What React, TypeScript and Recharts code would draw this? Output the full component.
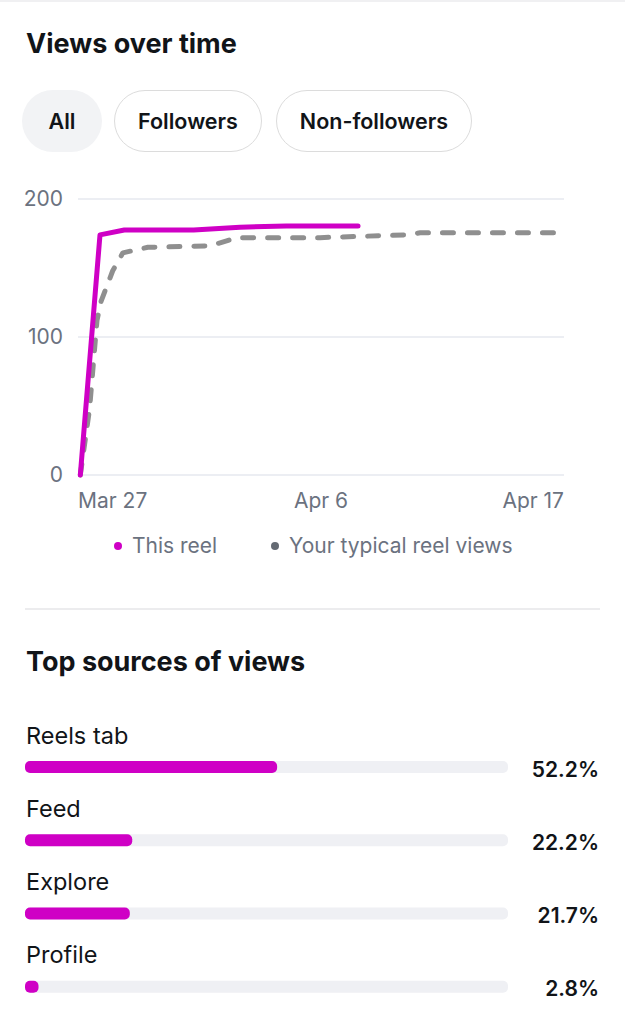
import React from "react";
import {
  LineChart,
  Line,
  XAxis,
  YAxis,
  CartesianGrid,
  Legend,
  BarChart,
  Bar,
  LabelList,
} from "recharts";

const FONT = 'Inter, "Noto Sans", sans-serif';
const MAGENTA = "#cf00c5";
const GRAY = "#8f8f8f";
const MUTED = "#6b7280";
const INK = "#111418";

const filters = ["All", "Followers", "Non-followers"];

// days since Mar 27
const reelDays = [0.1, 0.95, 2, 5, 7, 9, 12.1];
const reelViews = [0, 174, 177.5, 177.5, 179.5, 180.5, 180.5];

const typicalDays = [0.1, 0.5, 0.82, 1.0, 1.5, 1.94, 3.02, 5.7, 6.87, 10.46, 14.2, 14.78, 21];
const typicalViews = [0, 48, 112, 126, 148, 161, 165, 166, 172, 172, 174, 175.5, 175.5];

const tickDays = [0, 10.5, 21];
const tickLabels = ["Mar 27", "Apr 6", "Apr 17"];
const yTicks = [0, 100, 200];

const seriesNames = ["This reel", "Your typical reel views"];
const legendDots = [MAGENTA, "#646a73"];

const sources = ["Reels tab", "Feed", "Explore", "Profile"];
const sourceShares = [52.2, 22.2, 21.7, 2.8];

const reelData = reelDays.map((day, i) => ({ day, views: reelViews[i] }));
const typicalData = typicalDays.map((day, i) => ({ day, views: typicalViews[i] }));
const sourceData = sources.map((name, i) => ({ name, share: sourceShares[i] }));

function XTick(props: any) {
  const { x, y, payload, index } = props;
  const i = tickDays.indexOf(payload.value);
  const anchor = index === 0 ? "start" : index === tickDays.length - 1 ? "end" : "middle";
  return (
    <text x={x} y={y + 33} textAnchor={anchor} fill={MUTED} fontSize={21} fontFamily={FONT}>
      {tickLabels[i]}
    </text>
  );
}

function renderLegend() {
  const lefts = [114, 271];
  return (
    <div style={{ height: 50, position: "relative", fontFamily: FONT, fontSize: 21, color: MUTED }}>
      {seriesNames.map((name, i) => (
        <div
          key={name}
          style={{
            position: "absolute",
            left: lefts[i],
            top: 0,
            height: 52,
            lineHeight: "52px",
            display: "flex",
            alignItems: "center",
            whiteSpace: "nowrap",
          }}
        >
          <span
            style={{
              width: 8,
              height: 8,
              borderRadius: 4,
              background: legendDots[i],
              marginRight: 10,
              display: "inline-block",
            }}
          />
          {name}
        </div>
      ))}
    </div>
  );
}

function box(props: any) {
  const vb = props.viewBox && props.viewBox.height != null ? props.viewBox : props;
  return { x: Number(vb.x), y: Number(vb.y), height: Number(vb.height) };
}

function NameLabel(props: any) {
  const { x, y, height } = box(props);
  return (
    <text
      x={x + 1}
      y={y + height / 2 - 32}
      dominantBaseline="central"
      fill={INK}
      fontSize={23.5}
      fontFamily={FONT}
    >
      {props.value}
    </text>
  );
}

function ShareLabel(props: any) {
  const { y, height } = box(props);
  return (
    <text
      x={599}
      y={y + height / 2 + 2}
      dominantBaseline="central"
      textAnchor="end"
      fill={INK}
      fontSize={21}
      fontWeight={600}
      fontFamily={FONT}
    >
      {`${Number(props.value).toFixed(1)}%`}
    </text>
  );
}

export default function App() {
  return (
    <div
      style={{
        position: "absolute",
        left: 0,
        top: 0,
        width: 625,
        height: 1024,
        background: "#fff",
        fontFamily: FONT,
        color: INK,
        overflow: "hidden",
      }}
    >
      <div style={{ position: "absolute", left: 0, top: 0, width: 625, height: 2, background: "#f0f0f2" }} />

      <div
        style={{
          position: "absolute",
          left: 26,
          top: 24,
          height: 40,
          lineHeight: "40px",
          fontSize: 27,
          fontWeight: 700,
        }}
      >
        Views over time
      </div>

      {filters.map((f, i) => {
        const lefts = [22, 114, 276];
        const widths = [80, 148, 196];
        const active = i === 0;
        return (
          <div
            key={f}
            style={{
              position: "absolute",
              left: lefts[i],
              top: 90,
              width: widths[i],
              height: 62,
              boxSizing: "border-box",
              borderRadius: 31,
              background: active ? "#f2f3f5" : "#fff",
              border: active ? "none" : "1.5px solid #dcdcdc",
              display: "flex",
              alignItems: "center",
              justifyContent: "center",
              fontSize: 21.5,
              fontWeight: 600,
            }}
          >
            {f}
          </div>
        );
      })}

      <div style={{ position: "absolute", left: 0, top: 170 }}>
        <LineChart width={625} height={400} margin={{ top: 29, right: 61, left: 0, bottom: 0 }}>
          <CartesianGrid vertical={false} stroke="#e6e9ef" strokeWidth={1.5} />
          <XAxis
            dataKey="day"
            type="number"
            domain={[0, 21]}
            ticks={tickDays}
            axisLine={false}
            tickLine={false}
            tickSize={0}
            tickMargin={0}
            height={45}
            tick={<XTick />}
            interval={0}
          />
          <YAxis
            type="number"
            domain={[0, 200]}
            ticks={yTicks}
            axisLine={false}
            tickLine={false}
            tickSize={0}
            tickMargin={15}
            width={78}
            tick={{ fill: MUTED, fontSize: 21, fontFamily: FONT }}
          />
          <Legend verticalAlign="bottom" height={50} content={renderLegend} />
          <Line
            data={typicalData}
            dataKey="views"
            name={seriesNames[1]}
            stroke={GRAY}
            strokeWidth={5}
            strokeDasharray="11 14"
            strokeLinecap="round"
            strokeLinejoin="round"
            dot={false}
            type="linear"
            isAnimationActive={false}
          />
          <Line
            data={reelData}
            dataKey="views"
            name={seriesNames[0]}
            stroke={MAGENTA}
            strokeWidth={5}
            strokeLinecap="round"
            strokeLinejoin="round"
            dot={false}
            type="linear"
            isAnimationActive={false}
          />
        </LineChart>
      </div>

      <div style={{ position: "absolute", left: 25, top: 608, width: 575, height: 1.5, background: "#ececee" }} />

      <div
        style={{
          position: "absolute",
          left: 26,
          top: 642,
          height: 40,
          lineHeight: "40px",
          fontSize: 27,
          fontWeight: 700,
        }}
      >
        Top sources of views
      </div>

      <div style={{ position: "absolute", left: 0, top: 700 }}>
        <BarChart
          layout="vertical"
          width={625}
          height={324}
          data={sourceData}
          margin={{ top: 30, right: 117, left: 25, bottom: 1 }}
        >
          <XAxis type="number" domain={[0, 100]} hide />
          <YAxis type="category" dataKey="name" hide />
          <Bar
            dataKey="share"
            fill={MAGENTA}
            barSize={12}
            radius={5}
            background={{ fill: "#eff0f4", radius: 5 }}
            isAnimationActive={false}
          >
            <LabelList dataKey="name" content={NameLabel} />
            <LabelList dataKey="share" content={ShareLabel} />
          </Bar>
        </BarChart>
      </div>
    </div>
  );
}
